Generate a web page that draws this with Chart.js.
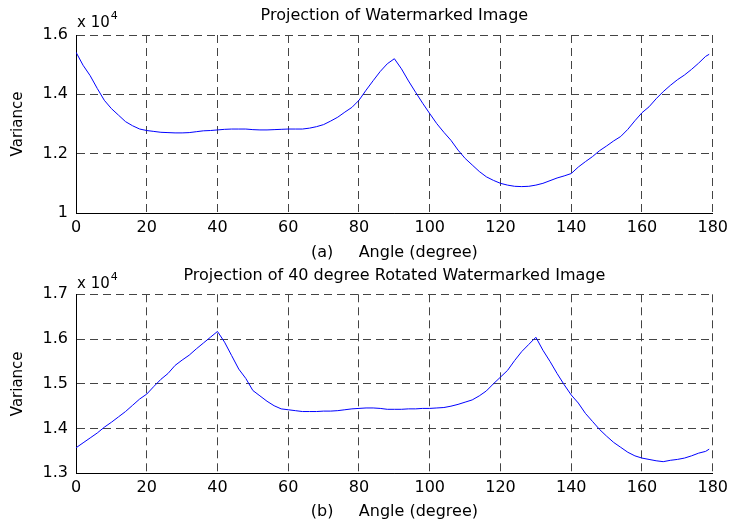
<!DOCTYPE html>
<html>
<head>
<meta charset="utf-8">
<script src="https://cdn.jsdelivr.net/npm/chart.js@4.4.0/dist/chart.umd.min.js"></script>
<style>
  html, body { margin: 0; padding: 0; background: #fff; }
  canvas { display: block; position: absolute; left: 0; }
  #chartA { top: 0; }
  #chartB { top: 262px; }
</style>
</head>
<body>
<canvas id="chartA" width="733" height="262"></canvas>
<canvas id="chartB" width="733" height="263"></canvas>
<script>
var angles = [
  0, 2, 4, 6, 8, 10, 12, 14, 16, 18, 20, 22, 24, 26, 28, 30, 32, 34, 36, 38,
  40, 42, 44, 46, 48, 50, 52, 54, 56, 58, 60, 62, 64, 66, 68, 70, 72, 74, 76, 78,
  80, 82, 84, 86, 88, 90, 92, 94, 96, 98, 100, 102, 104, 106, 108, 110, 112, 114, 116, 118,
  120, 122, 124, 126, 128, 130, 132, 134, 136, 138, 140, 142, 144, 146, 148, 150, 152, 154, 156, 158,
  160, 162, 164, 166, 168, 170, 172, 174, 176, 178, 179
]

// (a) watermarked image
var varianceA = [
  15420, 14980, 14630, 14200, 13800, 13520, 13300, 13080, 12940, 12830, 12780, 12750, 12720, 12710, 12700, 12700, 12710, 12740, 12770, 12780,
  12800, 12820, 12830, 12830, 12830, 12810, 12800, 12800, 12810, 12820, 12830, 12830, 12830, 12860, 12910, 12980, 13100, 13230, 13400, 13560,
  13800, 14140, 14460, 14770, 15030, 15200, 14860, 14450, 14070, 13700, 13350, 13010, 12720, 12450, 12120, 11840, 11620, 11400, 11220, 11100,
  11000, 10940, 10900, 10890, 10900, 10940, 11000, 11090, 11180, 11250, 11330, 11550, 11730, 11900, 12100, 12260, 12430, 12580, 12820, 13110,
  13380, 13580, 13850, 14090, 14300, 14490, 14650, 14840, 15050, 15280, 15350
]

// (b) 40 degree rotated watermarked image
var varianceB = [
  13570, 13680, 13790, 13900, 14030, 14140, 14260, 14380, 14520, 14660, 14770, 14940, 15100, 15230, 15410, 15530, 15640, 15780, 15910, 16040,
  16170, 15930, 15630, 15330, 15120, 14850, 14730, 14610, 14510, 14440, 14420, 14400, 14380, 14380, 14380, 14390, 14390, 14400, 14420, 14440,
  14450, 14460, 14460, 14450, 14430, 14430, 14430, 14440, 14440, 14450, 14450, 14460, 14470, 14500, 14540, 14590, 14640, 14730, 14840, 15000,
  15150, 15300, 15520, 15720, 15880, 16040, 15750, 15500, 15230, 14980, 14750, 14570, 14340, 14160, 13980, 13830, 13690, 13580, 13470, 13390,
  13340, 13310, 13280, 13260, 13290, 13310, 13340, 13390, 13450, 13490, 13540
]

var xTicks = [0, 20, 40, 60, 80, 100, 120, 140, 160, 180]
var yTicksA = [10000, 12000, 14000, 16000]
var yTicksB = [13000, 14000, 15000, 16000, 17000]

Chart.defaults.font.family = '"DejaVu Sans", sans-serif'
Chart.defaults.color = '#000'

// the "x 10^4" multiplier above the y axis
var exponentLabel = {
  id: 'exponentLabel',
  afterDraw: function (chart, args, opts) {
    var ctx = chart.ctx
    var area = chart.chartArea
    var base = area.top - opts.gap
    ctx.save()
    ctx.fillStyle = '#000'
    ctx.textBaseline = 'alphabetic'
    ctx.font = '15px "DejaVu Sans"'
    ctx.fillText('x 10', area.left + 1, base)
    var w = ctx.measureText('x 10').width
    ctx.font = '11px "DejaVu Sans"'
    ctx.fillText('4', area.left + 2 + w, base - 8)
    ctx.restore()
  }
}

function toPoints (values) {
  return angles.map(function (a, i) {
    return { x: a, y: values[i] }
  })
}

function buildChart (id, values, yTicks, cfg) {
  var canvas = document.getElementById(id)
  return new Chart(canvas, {
    type: 'line',
    data: {
      datasets: [{
        data: toPoints(values),
        borderColor: '#0000ff',
        borderWidth: 1,
        pointRadius: 0,
        tension: 0,
        fill: false
      }]
    },
    options: {
      responsive: false,
      animation: false,
      events: [],
      layout: { padding: { left: 0, right: 16, top: 0, bottom: 0 } },
      plugins: {
        legend: { display: false },
        tooltip: { enabled: false },
        title: {
          display: true,
          text: cfg.title,
          fullSize: false,
          font: { size: 16, weight: 'normal' },
          color: '#000',
          padding: cfg.titlePadding
        },
        exponentLabel: { gap: cfg.expGap }
      },
      scales: {
        x: {
          type: 'linear',
          min: 0,
          max: 180,
          afterBuildTicks: function (scale) {
            scale.ticks = xTicks.map(function (v) { return { value: v } })
          },
          afterFit: function (scale) { scale.height = cfg.xHeight },
          grid: { color: '#444', lineWidth: 1, drawTicks: false },
          border: { display: true, color: '#000', width: 1, dash: [8, 5] },
          ticks: { font: { size: 16 }, padding: 5, maxRotation: 0 },
          title: {
            display: true,
            text: cfg.xTitle,
            font: { size: 16 },
            padding: { top: 0, bottom: cfg.xTitleBottom }
          }
        },
        y: {
          type: 'linear',
          min: yTicks[0],
          max: yTicks[yTicks.length - 1],
          afterBuildTicks: function (scale) {
            scale.ticks = yTicks.map(function (v) { return { value: v } })
          },
          afterFit: function (scale) { scale.width = 76 },
          grid: { color: '#444', lineWidth: 1, drawTicks: false },
          border: { display: true, color: '#000', width: 1, dash: [8, 5] },
          ticks: {
            font: { size: 16 },
            padding: 8,
            callback: function (v) { return String(v / 10000) }
          },
          title: {
            display: true,
            text: 'Variance',
            font: { size: 15 },
            padding: { top: 9, bottom: 0 }
          }
        }
      }
    },
    plugins: [exponentLabel]
  })
}

buildChart('chartA', varianceA, yTicksA, {
  title: 'Projection of Watermarked Image',
  titlePadding: { top: 6.4, bottom: 9.4 },
  expGap: 8,
  xHeight: 49,
  xTitle: '(a)     Angle (degree)',
  xTitleBottom: 0
})

buildChart('chartB', varianceB, yTicksB, {
  title: 'Projection of 40 degree Rotated Watermarked Image',
  titlePadding: { top: 4.4, bottom: 8.7 },
  expGap: 6.3,
  xHeight: 51.7,
  xTitle: '(b)     Angle (degree)',
  xTitleBottom: 3.7
})
</script>
</body>
</html>
